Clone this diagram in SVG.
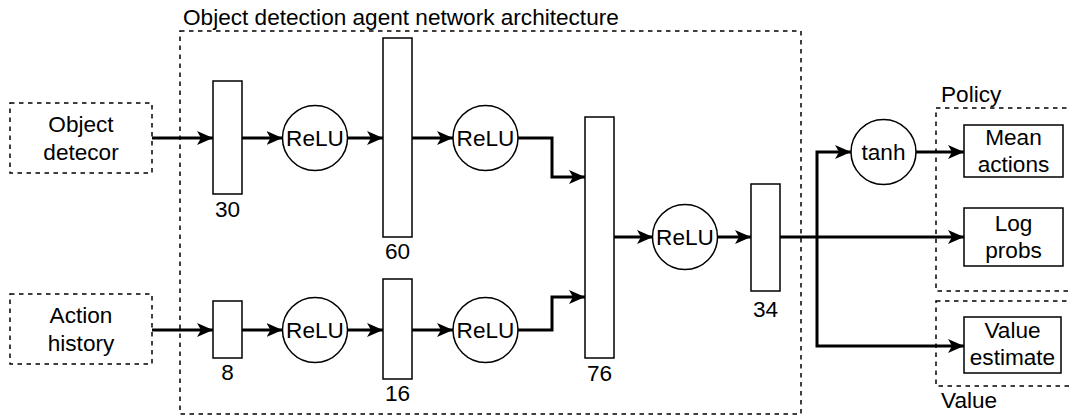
<svg xmlns="http://www.w3.org/2000/svg" width="1070" height="416" viewBox="0 0 1070 416">
<defs>
<style>
text{font-family:"Liberation Sans",Arial,sans-serif;font-size:22.6px;fill:#000}
.m{text-anchor:middle}
.dash{fill:none;stroke:#000;stroke-width:1.5;stroke-dasharray:4.5 4.5}
.box{fill:#fff;stroke:#000;stroke-width:1.5}
.edge{fill:none;stroke:#000;stroke-width:3;marker-end:url(#ah)}
</style>
<marker id="ah" markerUnits="userSpaceOnUse" markerWidth="17" markerHeight="15" refX="16" refY="7" orient="auto">
<path d="M0 0 L16 7 L0 14 L4 7 Z" fill="#000"/>
</marker>
</defs>
<rect width="1070" height="416" fill="#fff"/>
<g id="container">
<rect class="dash" x="180" y="31" width="621" height="383"/>
<text x="183" y="25">Object detection agent network architecture</text>
</g>
<g id="policy-group">
<rect class="dash" x="936" y="108" width="150" height="183"/>
<text x="941" y="102">Policy</text>
</g>
<g id="value-group">
<rect class="dash" x="936" y="301" width="150" height="85"/>
<text x="941" y="408">Value</text>
</g>
<g id="connectors">
<path class="edge" d="M152 138 H213"/>
<path class="edge" d="M242 138 H282.5"/>
<path class="edge" d="M347.5 138 H383"/>
<path class="edge" d="M412 138 H453"/>
<path class="edge" d="M518 138 H552 V177 H585"/>
<path class="edge" d="M152 330 H213"/>
<path class="edge" d="M242 330 H282.5"/>
<path class="edge" d="M347.5 330 H383"/>
<path class="edge" d="M412 330 H453"/>
<path class="edge" d="M518 330 H552 V297 H585"/>
<path class="edge" d="M614 237 H653"/>
<path class="edge" d="M717 237 H751"/>
<path class="edge" d="M780 237 H964"/>
<path class="edge" d="M817 237 V152 H851"/>
<path class="edge" d="M817 237 V346 H964"/>
<path class="edge" d="M916 152 H964"/>
</g>
<g id="object-detector">
<rect class="dash" x="10" y="103" width="142" height="70"/>
<text class="m" x="81" y="132">Object</text>
<text class="m" x="81" y="160">detecor</text>
</g>
<g id="action-history">
<rect class="dash" x="10" y="294" width="142" height="70"/>
<text class="m" x="81" y="323">Action</text>
<text class="m" x="81" y="351">history</text>
</g>
<g id="layer30">
<rect class="box" x="213" y="81" width="29" height="113"/>
<text class="m" x="227.5" y="217">30</text>
</g>
<g id="layer8">
<rect class="box" x="213" y="301" width="29" height="57"/>
<text class="m" x="227.5" y="380">8</text>
</g>
<g id="relu1">
<circle class="box" cx="315" cy="138" r="32.5"/>
<text class="m" x="315" y="146">ReLU</text>
</g>
<g id="relu2">
<circle class="box" cx="315" cy="330" r="32.5"/>
<text class="m" x="315" y="338">ReLU</text>
</g>
<g id="layer60">
<rect class="box" x="383" y="38" width="29" height="199"/>
<text class="m" x="397.5" y="259">60</text>
</g>
<g id="layer16">
<rect class="box" x="383" y="279" width="29" height="100"/>
<text class="m" x="397.5" y="401">16</text>
</g>
<g id="relu3">
<circle class="box" cx="485.5" cy="138" r="32.5"/>
<text class="m" x="485.5" y="146">ReLU</text>
</g>
<g id="relu4">
<circle class="box" cx="485.5" cy="330" r="32.5"/>
<text class="m" x="485.5" y="338">ReLU</text>
</g>
<g id="layer76">
<rect class="box" x="585" y="117" width="29" height="241"/>
<text class="m" x="599.5" y="381">76</text>
</g>
<g id="relu5">
<circle class="box" cx="685" cy="237" r="32.5"/>
<text class="m" x="685" y="245">ReLU</text>
</g>
<g id="layer34">
<rect class="box" x="751" y="184" width="29" height="107"/>
<text class="m" x="765.5" y="317">34</text>
</g>
<g id="tanh">
<circle class="box" cx="883.5" cy="152" r="32.5"/>
<text class="m" x="883.5" y="160">tanh</text>
</g>
<g id="mean-actions">
<rect class="box" x="964" y="125" width="99" height="52"/>
<text class="m" x="1013.5" y="145">Mean</text>
<text class="m" x="1013.5" y="172">actions</text>
</g>
<g id="log-probs">
<rect class="box" x="964" y="208" width="99" height="58"/>
<text class="m" x="1013.5" y="231">Log</text>
<text class="m" x="1013.5" y="258">probs</text>
</g>
<g id="value-estimate">
<rect class="box" x="964" y="317" width="97" height="56"/>
<text class="m" x="1012.5" y="338">Value</text>
<text class="m" x="1012.5" y="365">estimate</text>
</g>
</svg>
